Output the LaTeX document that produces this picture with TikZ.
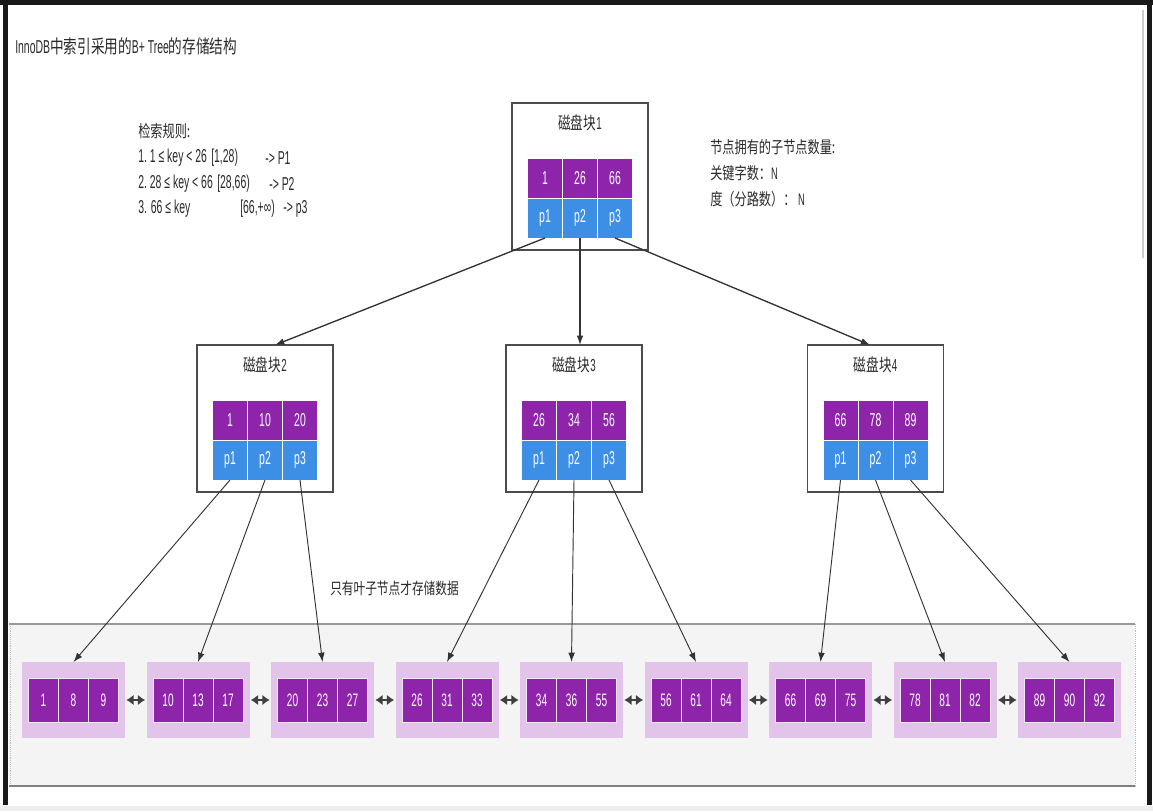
\documentclass[tikz,border=0pt]{standalone}
\usepackage{fontspec}
\setmainfont{Liberation Sans}[FakeStretch=0.56]
\newfontfamily\cjkfont{Noto Sans CJK SC}[FakeStretch=0.73]
\newcommand\zh[1]{{\cjkfont #1}}
\usetikzlibrary{arrows.meta}
\definecolor{kpurple}{HTML}{8E24AA}
\definecolor{kblue}{HTML}{3D8FE6}
\definecolor{klight}{HTML}{E2C4EA}
\definecolor{kband}{HTML}{F4F4F4}
\definecolor{ktext}{HTML}{2A2A2A}
\tikzset{
  diskbox/.style={draw=black!70, line width=1.1pt, fill=white, minimum width=102pt, minimum height=110.25pt, inner sep=0pt, outer sep=0pt},
  boxtitle/.style={text=ktext, font=\fontsize{13}{15}\selectfont, inner sep=0pt},
  kcell/.style={fill=kpurple, draw=white, line width=0.6pt, minimum width=26.25pt, minimum height=30pt, inner sep=0pt, outer sep=0pt, text=white, font=\fontsize{14}{16}\selectfont},
  pcell/.style={kcell, fill=kblue},
  leafbox/.style={fill=klight, minimum width=77.25pt, minimum height=57pt, inner sep=0pt, outer sep=0pt},
  lcell/.style={fill=kpurple, draw=white!60!klight, line width=0.6pt, minimum width=22.5pt, minimum height=33pt, inner sep=0pt, outer sep=0pt, text=white, font=\fontsize{13.5}{15}\selectfont},
  tarrow/.style={-{Latex[length=7pt,width=5pt]}, draw=black!80, line width=0.7pt},
  rarrow/.style={tarrow, line width=1pt},
  leafarrow/.style={{Latex[length=5.5pt,width=8pt]}-{Latex[length=5.5pt,width=8pt]}, line width=2pt, draw=black!75},
  note/.style={anchor=west, text=ktext, inner sep=0pt, font=\fontsize{14}{16}\selectfont},
  cnote/.style={anchor=west, text=ktext, inner sep=0pt, font=\fontsize{12.5}{15}\selectfont},
}
\begin{document}
\begin{tikzpicture}[x=0.75pt,y=-0.75pt]
\useasboundingbox (0,0) rectangle (1153,811);
\fill[white] (0,0) rectangle (1153,811);
% frame
\fill[black!90] (0,0) rectangle (1153,5);
\fill[black!90] (3,0) rectangle (8,805);
\fill[black!90] (1147,0) rectangle (1152,805);
\fill[black!7] (0,806) rectangle (1153,811);
\draw[black!20, line width=1pt] (1143,10) -- (1143,258);
% leaf band
\fill[kband] (9,624) rectangle (1135,787);
\draw[black!25, densely dotted] (10,624) -- (10,787);
\draw[black!25, densely dotted] (1135,624) -- (1135,787);
\draw[black!40, line width=0.8pt] (9,624) -- (1135,624);
\draw[black!50, line width=1.1pt] (9,786) -- (1135,786);

% title and notes
\node[anchor=west, text=ktext, inner sep=0pt, font=\fontsize{14}{16}\selectfont] (title) at (15,46) {InnoDB\zh{中索引采用的}B+ Tree\zh{的存储结构}};
\node[cnote] (rules) at (138,131) {\zh{检索规则:}};
\node[note] (r1a) at (138,158) {1.\ 1 ≤ key < 26};
\node[note] (r1b) at (211,158) {[1,28)};
\node[note] (r1c) at (265,158) {-> P1};
\node[note] (r2a) at (138,184) {2.\ 28 ≤ key < 66};
\node[note] (r2b) at (217,184) {[28,66)};
\node[note] (r2c) at (269,184) {-> P2};
\node[note] (r3a) at (138,209) {3. 66 ≤ key};
\node[note] (r3b) at (240,209) {[66,+∞)};
\node[note] (r3c) at (283,209) {-> p3};
\node[cnote] (n1) at (710,147) {\zh{节点拥有的子节点数量:}};
\node[cnote] (n2) at (710,173) {\zh{关键字数：}N};
\node[cnote] (n3) at (710,199) {\zh{度（分路数）：}\ N};
\node[cnote, font=\fontsize{12}{14}\selectfont] (leafnote) at (330,588) {\zh{只有叶子节点才存储数据}};

% internal disk blocks
\foreach \n/\x/\y/\t/\a/\b/\c in {r/580/176.5/1/1/26/66, b2/265/418.5/2/1/10/20, b3/574/418.5/3/26/34/56, b4/875.5/418.5/4/66/78/89}{
  \node[diskbox] (\n) at (\x,\y) {};
  \node[boxtitle] (\n-t) at ([yshift=-15pt]\n.north) {\zh{磁盘块}\t};
  \node[kcell] (\n-k2) at ([yshift=-56.25pt]\n.north) {\b};
  \node[kcell] (\n-k1) at ([xshift=-26.25pt]\n-k2.center) {\a};
  \node[kcell] (\n-k3) at ([xshift=26.25pt]\n-k2.center) {\c};
  \node[pcell] (\n-p2) at ([yshift=-86.25pt]\n.north) {p2};
  \node[pcell] (\n-p1) at ([xshift=-26.25pt]\n-p2.center) {p1};
  \node[pcell] (\n-p3) at ([xshift=26.25pt]\n-p2.center) {p3};
}

% leaves
\foreach \i/\a/\b/\c in {1/1/8/9, 2/10/13/17, 3/20/23/27, 4/26/31/33, 5/34/36/55, 6/56/61/64, 7/66/69/75, 8/78/81/82, 9/89/90/92}{
  \node[leafbox] (l\i) at ({73.5+124.5*(\i-1)},700) {};
  \node[lcell] (l\i-2) at (l\i.center) {\b};
  \node[lcell] (l\i-1) at ([xshift=-22.5pt]l\i.center) {\a};
  \node[lcell] (l\i-3) at ([xshift=22.5pt]l\i.center) {\c};
}
\foreach \i [evaluate=\i as \j using int(\i+1)] in {1,...,8}{
  \draw[leafarrow] ([xshift=1pt]l\i.east) -- ([xshift=-1pt]l\j.west);
}

% tree connectors
\draw[rarrow] (r-p1.south) -- ([xshift=7.5pt]b2.north);
\draw[rarrow] (r-p2.south) -- (r-p2.south |- b3.north);
\draw[rarrow] (r-p3.south) -- ([xshift=-4pt]b4.north);
\draw[tarrow] (b2-p1.south) -- (l1.north);
\draw[tarrow] (b2-p2.south) -- (l2.north);
\draw[tarrow] (b2-p3.south) -- (l3.north);
\draw[tarrow] (b3-p1.south) -- (l4.north);
\draw[tarrow] (b3-p2.south) -- (l5.north);
\draw[tarrow] (b3-p3.south) -- (l6.north);
\draw[tarrow] (b4-p1.south) -- (l7.north);
\draw[tarrow] (b4-p2.south) -- (l8.north);
\draw[tarrow] (b4-p3.south) -- (l9.north);
\end{tikzpicture}
\end{document}
